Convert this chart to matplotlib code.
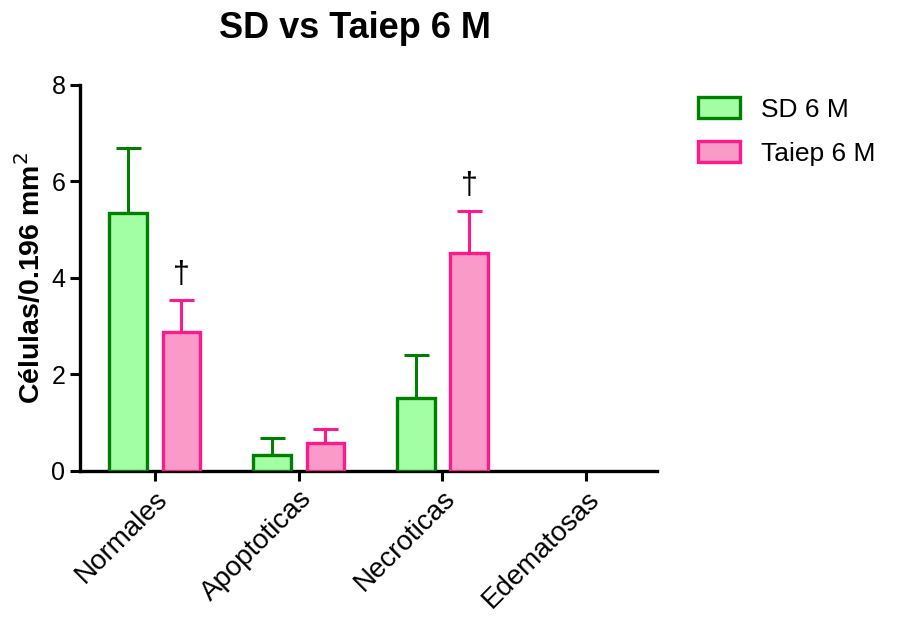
import matplotlib.pyplot as plt
import numpy as np

plt.rcParams['font.family'] = ['Liberation Sans', 'DejaVu Sans']

categories = ["Normales", "Apoptoticas", "Necroticas", "Edematosas"]
sd_mean = [5.35, 0.33, 1.51, 0.0]
sd_err = [1.34, 0.35, 0.89, 0.0]
taiep_mean = [2.88, 0.58, 4.52, 0.0]
taiep_err = [0.66, 0.29, 0.87, 0.0]
series_labels = ["SD 6 M", "Taiep 6 M"]
taiep_marks = ["†", "", "†", ""]

fig = plt.figure(figsize=(8.97, 6.3), dpi=100)
ax = fig.add_axes([0.0892, 0.2524, 0.643, 0.613])

x = np.arange(len(categories))
w = 0.26
off = 0.185

ax.bar(x - off, sd_mean, w, color="#a3ffa3", edgecolor="#008000",
       linewidth=[2.4 if v > 0 else 0 for v in sd_mean],
       label=series_labels[0], zorder=3)
ax.bar(x + off, taiep_mean, w, color="#f99ac8", edgecolor="#ff1a8c",
       linewidth=[2.4 if v > 0 else 0 for v in taiep_mean],
       label=series_labels[1], zorder=3)

for xs, m, e, c in [(x - off, sd_mean, sd_err, "#008000"),
                    (x + off, taiep_mean, taiep_err, "#ff1a8c")]:
    for xi, mi, ei in zip(xs, m, e):
        if mi > 0:
            ax.errorbar(xi, mi, yerr=[[0], [ei]], fmt="none", ecolor=c,
                        elinewidth=2.2, capsize=9, capthick=2.2, zorder=2)

# dagger marks above Taiep bars
for i, mk in enumerate(taiep_marks):
    if mk:
        ax.text(x[i] + off, taiep_mean[i] + taiep_err[i] + 0.2, mk,
                ha="center", va="bottom", fontsize=22)

ax.set_xlim(-0.52, 3.49)
ax.set_ylim(0, 8)
ax.set_yticks([0, 2, 4, 6, 8])
ax.set_xticks(x)
ax.set_xticklabels(categories, rotation=45, ha="right", rotation_mode="anchor",
                   fontsize=20)
ax.tick_params(axis="y", labelsize=18, width=2.2, length=7)
ax.tick_params(axis="x", width=2.2, length=7)
for s in ["top", "right"]:
    ax.spines[s].set_visible(False)
for s in ["left", "bottom"]:
    ax.spines[s].set_linewidth(2.4)

ax.set_ylabel("Células/0.196 mm$^2$", fontsize=20.5, fontweight="bold", labelpad=4)
fig.text(355 / 897, 1 - 28 / 630, "SD vs Taiep 6 M", fontsize=26,
         fontweight="bold", ha="center", va="center")

ax.legend(loc="upper left", bbox_to_anchor=(1.03, 1.03), frameon=False,
          fontsize=19, handlelength=1.6, handleheight=0.85, labelspacing=0.75,
          handletextpad=0.8)

fig.savefig("out.png", dpi=100)
